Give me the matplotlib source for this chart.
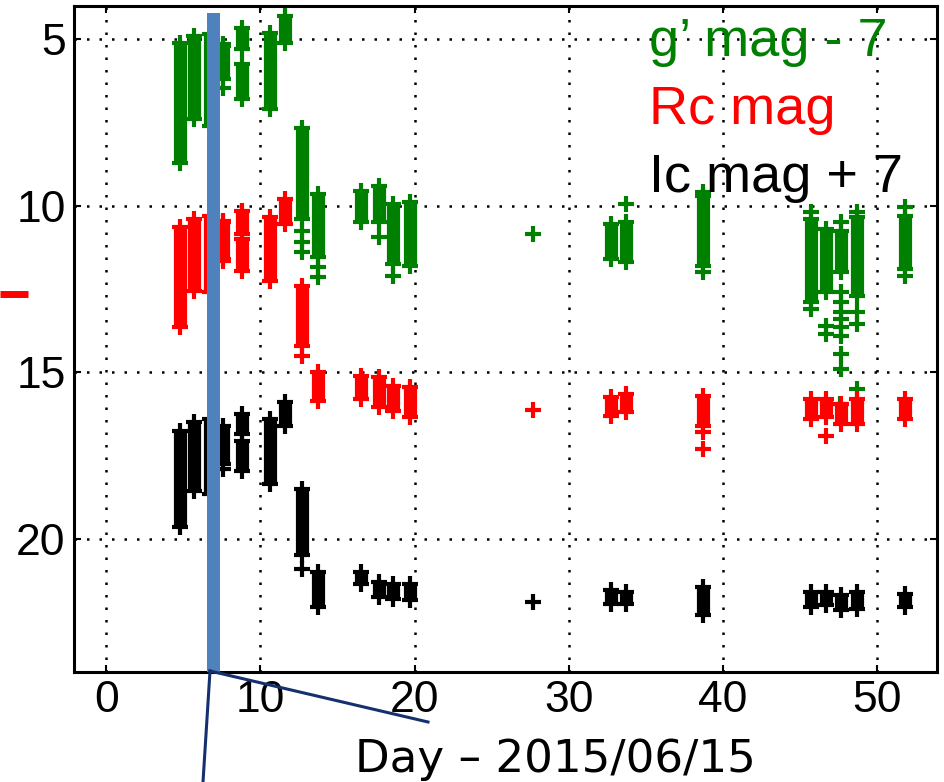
import matplotlib
matplotlib.use("Agg")
import matplotlib.pyplot as plt
from matplotlib.lines import Line2D

# ---- datos (día desde 2015/06/15, magnitud) ----
# cada tramo: día, magnitud superior, magnitud inferior
g_day = [4.76, 5.67, 6.71, 7.6, 8.8, 8.8, 10.6, 11.6, 12.7, 13.7, 16.5, 17.7, 18.6, 19.7,
         32.75, 33.7, 38.7, 45.7, 46.7, 47.7, 48.7, 51.8]
g_top = [5.1, 4.9, 4.85, 5.2, 4.65, 5.75, 4.8, 4.3, 7.65, 9.65, 9.55, 9.4, 9.95, 9.9,
         10.54, 10.48, 9.7, 10.4, 10.7, 10.75, 10.35, 10.3]
g_bot = [8.7, 7.4, 7.6, 6.2, 5.3, 6.8, 7.1, 5.1, 10.4, 11.55, 10.5, 10.5, 11.75, 11.8,
         11.59, 11.68, 11.8, 12.9, 12.6, 12.0, 12.7, 11.9]
g_out_day = [7.6, 7.6, 12.7, 12.7, 12.7, 13.7, 13.7, 17.7, 18.6, 27.7, 33.7, 38.7, 38.7,
             45.7, 45.7, 46.7, 46.7, 47.7, 47.7, 47.7, 47.7, 47.7, 47.7, 47.7, 47.7, 47.7,
             47.6, 48.7, 48.7, 48.7, 48.7, 51.8, 51.8]
g_out_mag = [5.15, 6.45, 10.75, 11.1, 11.4, 11.85, 12.15, 10.95, 12.1, 10.84, 9.94, 9.6, 12.0,
             10.2, 13.1, 13.6, 13.85, 10.5, 12.6, 12.9, 13.2, 13.4, 13.65, 13.9, 14.45, 14.9,
             15.95, 10.2, 13.2, 13.55, 15.5, 10.05, 12.1]

r_day = [4.76, 5.67, 6.71, 7.6, 8.8, 8.8, 10.6, 11.6, 12.7, 13.7, 16.5, 17.7, 18.6, 19.7,
         32.75, 33.7, 38.7, 45.7, 46.7, 47.7, 48.7, 51.8]
r_top = [10.65, 10.4, 10.3, 10.5, 10.15, 11.0, 10.35, 9.8, 12.4, 15.0, 15.1, 15.15, 15.4, 15.45,
         15.75, 15.65, 15.7, 15.8, 15.8, 15.95, 15.8, 15.8]
r_bot = [13.65, 12.55, 12.6, 11.6, 10.85, 11.95, 12.25, 10.55, 14.2, 15.85, 15.8, 16.05, 16.15,
         16.35, 16.3, 16.2, 16.6, 16.4, 16.35, 16.55, 16.55, 16.4]
r_out_day = [7.6, 7.6, 12.7, 27.7, 38.7, 38.7, 46.7]
r_out_mag = [10.45, 11.65, 14.5, 16.14, 16.8, 17.3, 16.9]

i_day = [4.76, 5.67, 6.71, 7.6, 8.8, 8.8, 10.6, 11.6, 12.7, 13.7, 16.5, 17.7, 18.6, 19.7,
         32.75, 33.7, 38.7, 45.7, 46.7, 47.7, 48.7, 51.8]
i_top = [16.75, 16.5, 16.4, 16.6, 16.25, 17.05, 16.4, 15.9, 18.5, 21.0, 21.0, 21.3, 21.35, 21.35,
         21.55, 21.6, 21.45, 21.6, 21.6, 21.7, 21.6, 21.65]
i_bot = [19.65, 18.55, 18.65, 17.75, 16.85, 17.95, 18.35, 16.6, 20.5, 22.05, 21.35, 21.75, 21.8,
         21.85, 21.95, 21.95, 22.3, 22.05, 22.0, 22.15, 22.1, 22.05]
i_out_day = [7.6, 12.7, 27.7]
i_out_mag = [17.9, 20.9, 21.9]

banda = (6.5, 7.35)   # franja azul marcada
x_ticks = [0, 10, 20, 30, 40, 50]
y_ticks = [5, 10, 15, 20]

series = [
    (g_day, g_top, g_bot, g_out_day, g_out_mag, 'green'),
    (r_day, r_top, r_bot, r_out_day, r_out_mag, 'red'),
    (i_day, i_top, i_bot, i_out_day, i_out_mag, 'black'),
]

plt.rcParams['font.family'] = ['Liberation Sans', 'DejaVu Sans']

fig = plt.figure(figsize=(9.44, 7.82), dpi=100)
ax = fig.add_axes([0.0784, 0.1407, 0.9142, 0.8516])

for dias, sup, inf, o_dia, o_mag, color in series:
    ax.vlines(dias, sup, inf, colors=color, linewidth=9.5, zorder=3)
    ax.plot(dias, sup, '+', color=color, ms=12, mew=3, zorder=3)
    ax.plot(dias, inf, '+', color=color, ms=12, mew=3, zorder=3)
    ax.plot(o_dia, o_mag, '+', color=color, ms=12, mew=3, zorder=3)

ax.axvspan(banda[0], banda[1], ymin=0, ymax=0.99, color='#4f81bd', zorder=4, lw=0)

ax.set_xlim(-2.1, 53.9)
ax.set_ylim(24, 4)
ax.set_xticks(x_ticks)
ax.set_yticks(y_ticks)
ax.grid(True, color='black', linestyle=(0, (1, 4)), linewidth=1.8)
ax.tick_params(axis='both', labelsize=32, direction='in', length=5, width=1.5,
               top=True, right=True, pad=6)
for sp in ax.spines.values():
    sp.set_linewidth(2.2)

# textos de leyenda coloreados
ax.text(0.666, 0.983, "g’ mag - 7", transform=ax.transAxes, color='green',
        fontsize=39, va='top', ha='left')
ax.text(0.666, 0.881, "Rc mag", transform=ax.transAxes, color='red',
        fontsize=39, va='top', ha='left')
ax.text(0.666, 0.779, "Ic mag + 7", transform=ax.transAxes, color='black',
        fontsize=39, va='top', ha='left')

fig.text(555 / 944, 1 - 772 / 782, "Day – 2015/06/15", family='DejaVu Sans',
         fontsize=32.5, ha='center', va='baseline')

# líneas de llamada y marca roja fuera de los ejes
navy = '#14306e'
fig.add_artist(Line2D([210 / 944, 428 / 944], [1 - 671 / 782, 1 - 722 / 782],
                      color=navy, lw=2.2))
fig.add_artist(Line2D([210 / 944, 203 / 944], [1 - 671 / 782, 0.0],
                      color=navy, lw=2.2))
fig.add_artist(Line2D([0.0, 28 / 944], [1 - 293.5 / 782, 1 - 293.5 / 782],
                      color='red', lw=5, solid_capstyle='butt'))

plt.savefig('out.png', dpi=100)
